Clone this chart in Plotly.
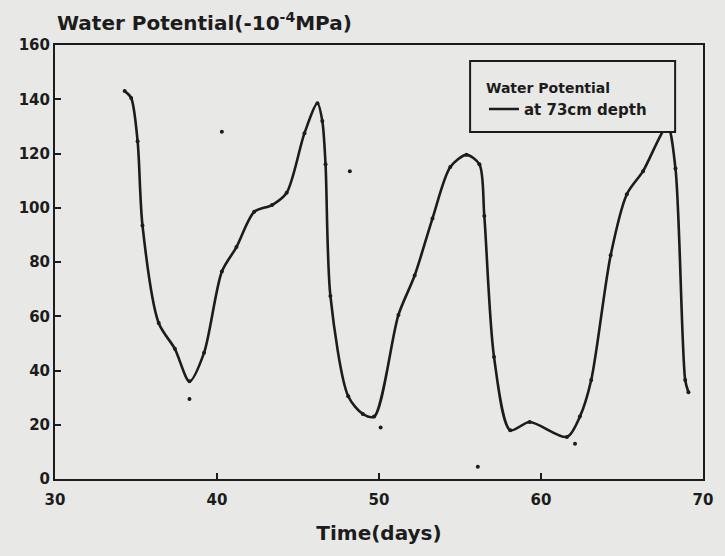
import plotly.graph_objects as go

# Data
day = [34.3, 34.7, 35.1, 35.4, 36.4, 37.4, 38.3, 39.2, 40.3, 41.2, 42.3, 43.4, 44.3,
       45.4, 46.2, 46.5, 46.7, 47.0, 48.1, 49.0, 49.7, 51.2, 52.2, 53.3, 54.4, 55.4,
       56.2, 56.5, 57.1, 58.1, 59.3, 61.6, 62.4, 63.1, 64.3, 65.3, 66.3, 67.8, 68.3,
       68.9, 69.1]
potential = [143, 140.5, 124.5, 93.5, 57.5, 48, 36, 46.5, 76.5, 85.5, 98.5, 101, 105.5,
             127.5, 138.5, 132, 116, 67.5, 30.5, 24, 23, 60.5, 75, 96, 115, 119.5,
             116, 97, 45, 18, 21, 15.5, 23, 36.5, 82.5, 105, 113.5, 130, 114.5,
             36.5, 32]

stray_day = [40.3, 48.2, 38.3, 50.1, 62.1, 56.1]
stray_val = [128, 113.5, 29.5, 19, 13, 4.5]

x_ticks = [30, 40, 50, 60, 70]
y_ticks = [0, 20, 40, 60, 80, 100, 120, 140, 160]

ink = "#1c1c1c"
paper = "#e8e8e6"
wide = "DejaVu Sans, Verdana, sans-serif"

fig = go.Figure()
fig.add_trace(go.Scatter(
    x=day, y=potential, mode="lines", name="at 73cm depth",
    line=dict(color=ink, width=2.6, shape="spline", smoothing=0.8),
))
fig.add_trace(go.Scatter(
    x=day, y=potential, mode="markers", showlegend=False,
    marker=dict(color=ink, size=4),
))
fig.add_trace(go.Scatter(
    x=stray_day, y=stray_val, mode="markers", showlegend=False,
    marker=dict(color=ink, size=4),
))

# legend frame (opaque, hides the curve behind it as in the original)
fig.add_shape(type="rect", xref="paper", yref="paper",
              x0=0.6406, x1=0.957, y0=0.7995, y1=0.963,
              fillcolor=paper, line=dict(color=ink, width=2), layer="above")

fig.update_layout(
    width=725, height=556,
    paper_bgcolor=paper, plot_bgcolor=paper,
    margin=dict(l=55, r=19, t=45, b=77),
    font=dict(family=wide, color=ink),
    title=dict(
        text="Water Potential(-10<sup>-4</sup>MPa)",
        x=57 / 725, xanchor="left", xref="container",
        y=1 - 23 / 556, yanchor="middle", yref="container",
        font=dict(size=20, family=wide, color=ink, weight="bold"),
    ),
    legend=dict(
        x=0.662, xanchor="left", y=0.932, yanchor="top",
        bgcolor="rgba(0,0,0,0)", borderwidth=0,
        title=dict(text="Water Potential",
                   font=dict(size=14, family=wide, color=ink, weight="bold")),
        font=dict(size=15, family=wide, color=ink, weight="bold"),
        itemwidth=30,
    ),
    xaxis=dict(
        range=[30, 70], tickvals=x_ticks, ticktext=[str(v) for v in x_ticks],
        showgrid=False, zeroline=False,
        showline=True, linecolor=ink, linewidth=2, mirror=True,
        ticks="inside", ticklen=6, tickwidth=2, tickcolor=ink,
        tickfont=dict(size=15, family=wide, color=ink, weight="bold"),
        ticklabelstandoff=6,
        title=dict(text="Time(days)", standoff=18,
                   font=dict(size=20, family=wide, color=ink, weight="bold")),
    ),
    yaxis=dict(
        range=[0, 160], tickvals=y_ticks, ticktext=[str(v) for v in y_ticks],
        showgrid=False, zeroline=False,
        showline=True, linecolor=ink, linewidth=2, mirror=True,
        ticks="inside", ticklen=6, tickwidth=2, tickcolor=ink,
        tickfont=dict(size=15, family=wide, color=ink, weight="bold"),
    ),
)

fig.write_html("out.html")
